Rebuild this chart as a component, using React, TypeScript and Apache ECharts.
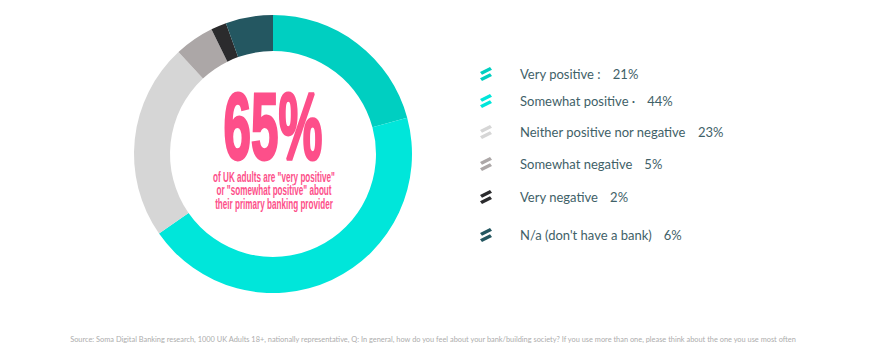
import React, { useEffect, useRef } from "react";
import * as echarts from "echarts";

const categories = [
  "Very positive",
  "Somewhat positive",
  "Neither positive nor negative",
  "Somewhat negative",
  "Very negative",
  "N/a (don't have a bank)",
];
// percentages printed in the legend
const values = [21, 44, 23, 5, 2, 6];
// unrounded shares read from the arc lengths of the ring
const shares = [20.8, 44.5, 22.8, 4.6, 1.8, 5.5];
const labelSuffix = [" :", " ·", "", "", "", ""];
const colors = ["#00cfc1", "#00e6da", "#d6d6d6", "#aca7a7", "#2b2b2d", "#245761"];
const legendRowY = [74, 101, 132, 164, 197, 235];
const headline = "65%";
const subLines = [
  "of UK adults are \"very positive\"",
  "or \"somewhat positive\" about",
  "their primary banking provider",
];
const footnote =
  "Source: Soma Digital Banking research, 1000 UK Adults 18+, nationally representative, Q: In general, how do you feel about your bank/building society? If you use more than one, please think about the one you use most often";

const ICON =
  "path://M0,5 L10,0 L12,2.8 L2,7.8 Z M0,11.2 L10,6.2 L12,9 L2,14 Z";

export default function App() {
  const ref = useRef<HTMLDivElement>(null);
  useEffect(() => {
    if (!ref.current) return;
    const chart = echarts.init(ref.current, undefined, { renderer: "svg" });
    const pink = "#fd4f8a";
    const legendColor = "#3f6168";
    const legends = categories.map((name, i) => ({
      left: 480,
      top: legendRowY[i] - 7,
      padding: 0,
      orient: "horizontal" as const,
      selectedMode: false,
      itemWidth: 12,
      itemHeight: 14,
      icon: ICON,
      data: [name],
      formatter: (n: string) => {
        const idx = categories.indexOf(n);
        return `{n|${n}${labelSuffix[idx]}}{v|${values[idx]}%}`;
      },
      textStyle: {
        padding: [0, 0, 0, 23],
        rich: {
          n: { fontFamily: "Lato", fontSize: 13, color: legendColor, padding: [0, 12, 0, 0] },
          v: { fontFamily: "Lato", fontSize: 13, color: legendColor },
        },
      },
    }));
    const graphics: any[] = [
      {
        type: "text",
        x: 273,
        y: 126,
        scaleX: 0.52,
        style: {
          text: headline,
          fill: pink,
          stroke: pink,
          lineWidth: 3,
          font: "bold 95px 'Liberation Sans'",
          textAlign: "center",
          textVerticalAlign: "middle",
        },
      },
      ...subLines.map((t, i) => ({
        type: "text",
        x: 274,
        y: 177 + i * 13.5,
        scaleX: 0.58,
        style: {
          text: t,
          fill: pink,
          font: "bold 14px 'Liberation Sans'",
          textAlign: "center",
          textVerticalAlign: "middle",
        },
      })),
      {
        type: "text",
        x: 433,
        y: 339,
        style: {
          text: footnote,
          fill: "#adadad",
          font: "7.4px Lato",
          textAlign: "center",
          textVerticalAlign: "middle",
        },
      },
    ];
    chart.setOption({
      animation: false,
      color: colors,
      legend: legends,
      graphic: graphics,
      series: [
        {
          type: "pie",
          center: [273, 154],
          radius: [103, 139],
          startAngle: 90,
          clockwise: true,
          silent: true,
          label: { show: false },
          labelLine: { show: false },
          data: categories.map((name, i) => ({ name, value: shares[i] })),
        },
      ],
    });
    return () => chart.dispose();
  }, []);
  return (
    <div
      ref={ref}
      style={{ position: "absolute", left: 0, top: 0, width: 875, height: 359, background: "#fff" }}
    />
  );
}
